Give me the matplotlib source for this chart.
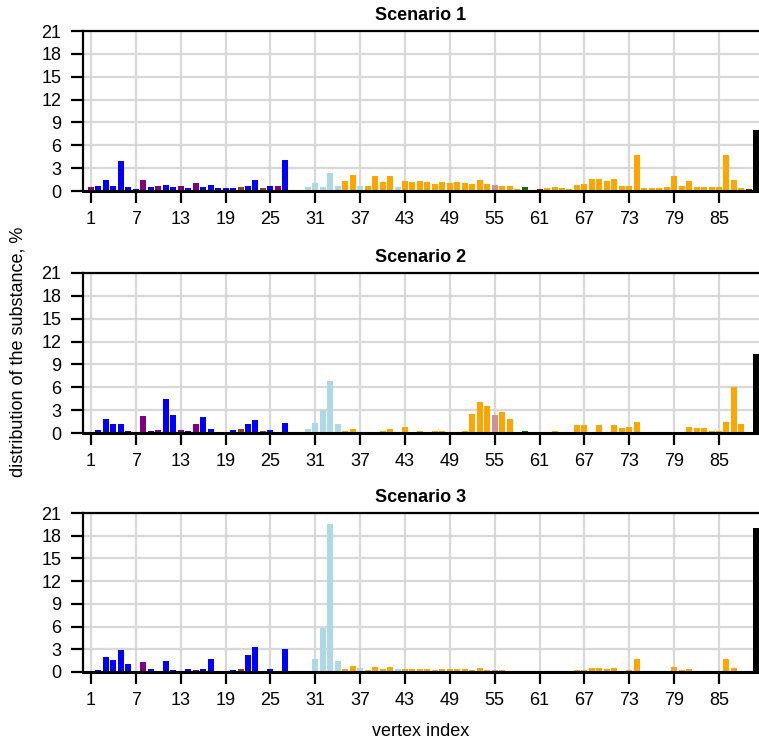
import matplotlib
matplotlib.use("Agg")
import matplotlib.pyplot as plt
import numpy as np

plt.rcParams['font.family'] = ['Liberation Sans', 'DejaVu Sans']

vertices = list(range(1, 91))
xtick_labels = [1, 7, 13, 19, 25, 31, 37, 43, 49, 55, 61, 67, 73, 79, 85]
ytick_values = [0, 3, 6, 9, 12, 15, 18, 21]
titles = ["Scenario 1", "Scenario 2", "Scenario 3"]

# vertex type codes: B blue, P purple, N brown, L lightblue, O orange,
# R rosybrown, G green, V olive, M maroon, K black
vertex_type = list(
    "PBBBBBBPBPBBPBPBBBBBNBBNBPBBB"   # 1-29
    "LLLLLOOLOOOOL"                   # 30-42
    "OOOOOOOOOOOO"                    # 43-54
    "ROOOGVM"                         # 55-61
    "OOOOOOOOOOOOOOOOOOOOOOOOOOO"     # 62-88
    "MK"                              # 89-90
)
palette = {"B": "#0000FF", "P": "#800080", "N": "#8B4513", "L": "#ADD8E6",
           "O": "#FFA500", "R": "#D0909A", "G": "#007800", "V": "#808000",
           "M": "#8B1A1A", "K": "#000000"}

scenario1 = [0.52, 0.66, 1.44, 0.66, 3.94, 0.52, 0.26, 1.44, 0.52, 0.66,
             0.79, 0.52, 0.66, 0.39, 1.05, 0.52, 0.79, 0.39, 0.39, 0.39,
             0.52, 0.66, 1.44, 0.39, 0.66, 0.66, 4.07, 0.0, 0.0, 0.52,
             1.05, 0.52, 2.36, 0.66, 1.31, 2.10, 0.66, 0.66, 1.97, 1.18,
             1.97, 0.52, 1.31, 1.18, 1.31, 1.18, 0.92, 1.18, 1.05, 1.18,
             1.05, 0.92, 1.44, 0.92, 0.79, 0.66, 0.66, 0.26, 0.52, 0.13,
             0.26, 0.39, 0.52, 0.39, 0.26, 0.79, 0.92, 1.57, 1.57, 1.31,
             1.57, 0.66, 0.66, 4.72, 0.39, 0.39, 0.39, 0.52, 1.97, 0.66,
             1.31, 0.52, 0.52, 0.52, 0.52, 4.72, 1.44, 0.39, 0.26, 8.0]

scenario2 = [0.0, 0.44, 1.90, 1.24, 1.24, 0.31, 0.0, 2.17, 0.31, 0.44,
             4.42, 2.30, 0.44, 0.31, 1.24, 2.04, 0.58, 0.0, 0.18, 0.44,
             0.58, 1.24, 1.77, 0.31, 0.44, 0.18, 1.37, 0.0, 0.0, 0.53,
             1.33, 3.05, 6.77, 1.19, 0.27, 0.53, 0.13, 0.0, 0.0, 0.27,
             0.53, 0.13, 0.80, 0.0, 0.27, 0.0, 0.27, 0.27, 0.0, 0.0,
             0.27, 2.52, 4.12, 3.58, 2.39, 2.79, 1.86, 0.0, 0.27, 0.0,
             0.0, 0.13, 0.31, 0.0, 0.0, 1.10, 1.10, 0.0, 1.10, 0.0,
             1.10, 0.71, 0.84, 1.50, 0.0, 0.0, 0.0, 0.0, 0.0, 0.0,
             0.84, 0.71, 0.71, 0.31, 0.31, 1.50, 6.02, 1.24, 0.0, 10.4]

scenario3 = [0.06, 0.31, 2.04, 1.64, 2.84, 1.11, 0.18, 1.38, 0.44, 0.18,
             1.51, 0.31, 0.06, 0.44, 0.31, 0.44, 1.78, 0.18, 0.06, 0.31,
             0.44, 2.18, 3.24, 0.18, 0.44, 0.06, 2.98, 0.0, 0.0, 0.15,
             1.67, 5.79, 19.6, 1.40, 0.35, 0.75, 0.48, 0.22, 0.61, 0.35,
             0.61, 0.35, 0.35, 0.35, 0.35, 0.35, 0.22, 0.35, 0.35, 0.35,
             0.35, 0.22, 0.48, 0.22, 0.22, 0.22, 0.09, 0.09, 0.13, 0.05,
             0.05, 0.09, 0.09, 0.09, 0.05, 0.22, 0.22, 0.48, 0.48, 0.35,
             0.48, 0.05, 0.22, 1.67, 0.05, 0.05, 0.05, 0.05, 0.61, 0.22,
             0.35, 0.05, 0.05, 0.05, 0.05, 1.67, 0.48, 0.05, 0.05, 19.0]

scenarios = [scenario1, scenario2, scenario3]
colors = [palette[c] for c in vertex_type]

W, H = 759, 745
fig = plt.figure(figsize=(W / 100, H / 100), dpi=100)

# (top, bottom) in pixels
boxes = [(31, 191), (273, 433), (513, 672)]
left_px = 83

for i, (vals, title, (top, bot)) in enumerate(zip(scenarios, titles, boxes)):
    ax = fig.add_axes([left_px / W, 1 - bot / H, 1 - left_px / W, (bot - top) / H])
    ax.set_axisbelow(True)
    ax.grid(True, color="#d8d8d8", linewidth=1.6)
    ax.bar(vertices, vals, width=0.8, color=colors, linewidth=0)
    ax.set_xlim(-0.07, 90.35)
    ax.set_ylim(0, 21)
    ax.set_xticks(xtick_labels)
    ax.set_xticklabels([str(v) for v in xtick_labels])
    ax.set_yticks(ytick_values)
    ax.tick_params(axis="both", direction="out", length=8.5, width=1.6,
                   labelsize=13, colors="black")
    ax.tick_params(axis="x", pad=6)
    ax.tick_params(axis="y", pad=7)
    ax.spines["right"].set_visible(False)
    ax.spines["left"].set_linewidth(1.6)
    ax.spines["top"].set_linewidth(1.6)
    ax.spines["bottom"].set_linewidth(2.2)
    ax.set_title(title, fontsize=13, fontweight="bold", pad=8)

fig.text(421 / W, 1 - 731 / H, "vertex index", ha="center", va="center", fontsize=13)
fig.text(18 / W, 1 - 352 / H, "distribution of the substance, %", ha="center",
         va="center", rotation=90, fontsize=13)

fig.savefig("out.png", dpi=100)
